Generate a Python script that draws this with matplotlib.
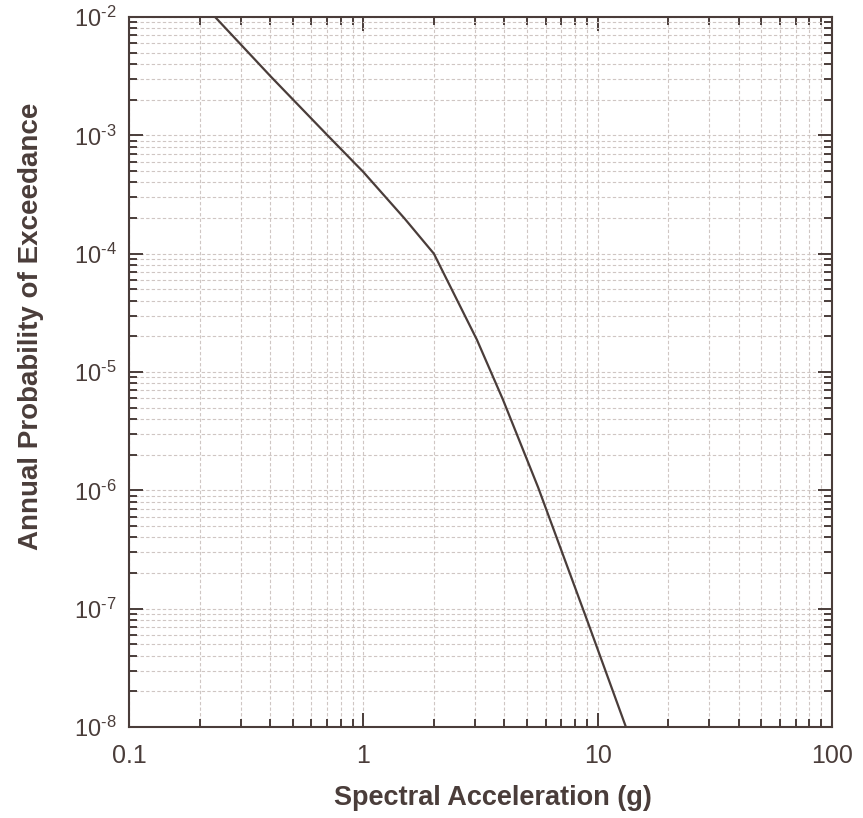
import matplotlib
matplotlib.use("Agg")
import matplotlib.pyplot as plt
from matplotlib.ticker import LogLocator, FixedLocator, FuncFormatter, NullFormatter

# Data
spectral_accel_g = [0.233, 0.404, 0.70, 1.0, 1.5, 2.0, 3.05, 3.94, 5.57, 8.98, 13.2]
annual_prob_exceed = [1.0e-2, 3.12e-3, 1.01e-3, 4.9e-4, 1.98e-4, 1.0e-4, 1.88e-5, 5.86e-6, 1.06e-6, 8.15e-8, 1.0e-8]

x_ticks = [0.1, 1, 10, 100]
x_tick_labels = ["0.1", "1", "10", "100"]
y_ticks = [1e-8, 1e-7, 1e-6, 1e-5, 1e-4, 1e-3, 1e-2]
y_tick_labels = [r"$10^{\text{-8}}$", r"$10^{\text{-7}}$", r"$10^{\text{-6}}$", r"$10^{\text{-5}}$",
                 r"$10^{\text{-4}}$", r"$10^{\text{-3}}$", r"$10^{\text{-2}}$"]

ink = "#4a3d3a"
grid_c = "#cfc6c3"

plt.rcParams['font.family'] = ['Liberation Sans', 'DejaVu Sans']
plt.rcParams['mathtext.fontset'] = 'custom'
plt.rcParams['mathtext.rm'] = 'Liberation Sans'
plt.rcParams['mathtext.it'] = 'Liberation Sans'
plt.rcParams['mathtext.default'] = 'regular'

fig = plt.figure(figsize=(8.63, 8.18), dpi=100)
ax = fig.add_axes([129/863, 1-727/818, (832-129)/863, (727-17)/818])

ax.plot(spectral_accel_g, annual_prob_exceed, color=ink, lw=1.6, solid_joinstyle='round')

ax.set_xscale('log')
ax.set_yscale('log')
ax.set_xlim(0.1, 100)
ax.set_ylim(1e-8, 1e-2)

ax.xaxis.set_major_locator(FixedLocator(x_ticks))
ax.xaxis.set_major_formatter(FuncFormatter(lambda v, p: x_tick_labels[x_ticks.index(v)] if v in x_ticks else ""))
ax.yaxis.set_major_locator(FixedLocator(y_ticks))
ax.set_yticklabels(y_tick_labels)
ax.xaxis.set_minor_locator(LogLocator(base=10, subs=range(2, 10), numticks=20))
ax.yaxis.set_minor_locator(LogLocator(base=10, subs=range(2, 10), numticks=20))
ax.xaxis.set_minor_formatter(NullFormatter())
ax.yaxis.set_minor_formatter(NullFormatter())

ax.grid(True, which='both', color=grid_c, lw=0.8, ls=(0, (3, 2)))
ax.set_axisbelow(True)

ax.tick_params(which='both', direction='in', top=True, right=True, colors=ink, width=1.4)
ax.tick_params(which='major', length=10)
ax.tick_params(axis='x', which='major', pad=12, labelsize=18)
ax.tick_params(axis='y', which='major', pad=9, labelsize=17)
ax.tick_params(which='minor', length=6)
for s in ax.spines.values():
    s.set_color(ink)
    s.set_linewidth(1.5)

ax.set_xlabel("Spectral Acceleration (g)", fontsize=19.5, fontweight='bold', color=ink)
ax.set_ylabel("Annual Probability of Exceedance", fontsize=20, fontweight='bold', color=ink)
ax.xaxis.set_label_coords((493 - 129) / 703, -(785 - 727) / 710)
ax.yaxis.set_label_coords((44 - 129) / 703, (727 - 326.5) / 710)

fig.savefig("out.png", dpi=100, facecolor='white')
